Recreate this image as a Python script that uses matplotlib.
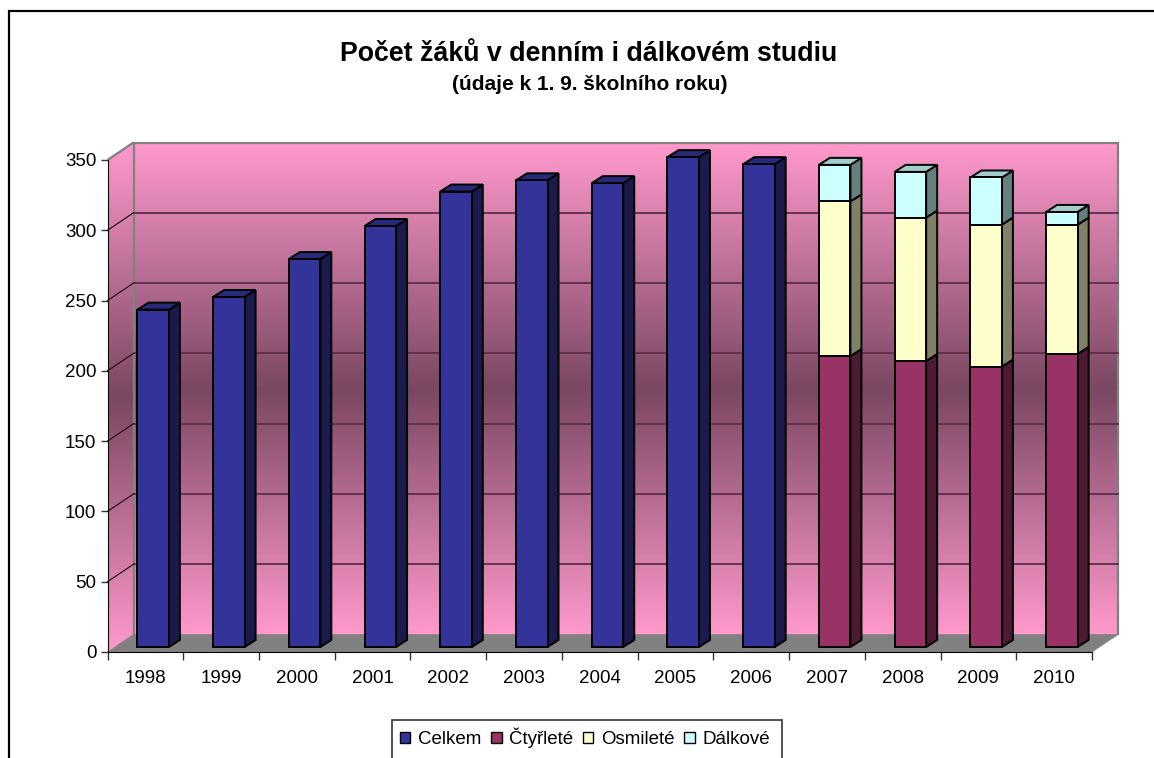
import numpy as np
import matplotlib
matplotlib.use('Agg')
import matplotlib.pyplot as plt
from matplotlib.colors import LinearSegmentedColormap
from matplotlib.patches import Polygon, Rectangle

plt.rcParams['font.family'] = ['Liberation Sans', 'DejaVu Sans']

# data
years = ['1998', '1999', '2000', '2001', '2002', '2003', '2004', '2005', '2006',
         '2007', '2008', '2009', '2010']
celkem = [240, 249, 276, 299.5, 324, 332, 330, 348.5, 343.5, 0, 0, 0, 0]
ctyrlete = [0, 0, 0, 0, 0, 0, 0, 0, 0, 207, 203.5, 199.5, 208.5]
osmilete = [0, 0, 0, 0, 0, 0, 0, 0, 0, 110, 102, 101, 92]
dalkove = [0, 0, 0, 0, 0, 0, 0, 0, 0, 26, 32.5, 33.5, 9]
y_ticks = [0, 50, 100, 150, 200, 250, 300, 350]

names = ['Celkem', 'Čtyřleté', 'Osmileté', 'Dálkové']
series = [celkem, ctyrlete, osmilete, dalkove]
front = ['#333399', '#993366', '#FFFFCC', '#CCFFFF']
side = ['#1A1A4D', '#4D1A33', '#808066', '#668080']
top = ['#29297A', '#7A2952', '#CCCCA3', '#A3CCCC']

W, H = 1154, 758
fig = plt.figure(figsize=(W / 100, H / 100), dpi=100)


def fig_box(x0, y0, x1, y1):
    return [x0 / W, 1 - y1 / H, (x1 - x0) / W, (y1 - y0) / H]


# chart frame, runs off the right and bottom of the image
frame = Rectangle((9 / W, -0.05), 1.2, 1.05 - 11 / H, transform=fig.transFigure,
                  fc='white', ec='black', lw=1.6, zorder=-1)
fig.add_artist(frame)

ax = fig.add_axes(fig_box(107.5, 160, 1092, 652))
ax.set_xlim(0, 13)
ax.set_ylim(0, 350)
ax.patch.set_visible(False)
for s in ['top', 'right']:
    ax.spines[s].set_visible(False)

# depth of the 3d box, in data units
px_x = 13 / (1092 - 107.5)
px_y = 350 / (652 - 160)
depth_x = 26 * px_x
depth_y = 17.5 * px_y

wall = LinearSegmentedColormap.from_list('wall', ['#FF99CC', '#7A4762', '#FF99CC'])
grad = np.linspace(0, 1, 256).reshape(-1, 1)

# back wall
ax.imshow(grad, cmap=wall, aspect='auto', zorder=1, clip_on=False, origin='upper',
          extent=(depth_x, 13 + depth_x, depth_y, 350 + depth_y))
# left side wall
side_im = ax.imshow(grad, cmap=wall, aspect='auto', zorder=1, origin='upper',
                    extent=(0, depth_x, 0, 350 + depth_y))
side_im.set_clip_box(fig.bbox)
side_im.set_clip_path(Polygon([(0, 0), (depth_x, depth_y), (depth_x, 350 + depth_y), (0, 350)],
                              transform=ax.transData))
ax.set_xlim(0, 13)
ax.set_ylim(0, 350)

wall_edge = '#808080'
ax.add_patch(Polygon([(depth_x, depth_y), (depth_x, 350 + depth_y), (13 + depth_x, 350 + depth_y),
                      (13 + depth_x, depth_y)], closed=False, fill=False, ec=wall_edge, lw=1.6,
                     zorder=2, clip_on=False))
ax.add_patch(Polygon([(0, 350), (depth_x, 350 + depth_y)], closed=False, fill=False, ec=wall_edge,
                     lw=1.6, zorder=2, clip_on=False))

# floor
ax.add_patch(Polygon([(0, 0), (13, 0), (13 + depth_x, depth_y), (depth_x, depth_y)], fc='#808080',
                     ec='#808080', lw=0.5, zorder=2, clip_on=False))

# gridlines on both walls
for v in y_ticks[1:-1]:
    ax.plot([depth_x, 13 + depth_x], [v + depth_y, v + depth_y], color='#5E2F47', lw=1.3, zorder=2,
            clip_on=False)
    ax.plot([0, depth_x], [v, v + depth_y], color='#2A1420', lw=0.9, zorder=2, clip_on=False)

# bars, left to right and bottom to top
bar_w = 31.5 * px_x
bar_dx = 11 * px_x
bar_dy = 7 * px_y
off_x = 8.5 * px_x
off_y = 5 * px_y
x_pos = np.arange(len(years)) + 0.5 + off_x - 0.5 * 1.5 * px_x

for i in range(len(years)):
    base = off_y
    left = x_pos[i] - bar_w / 2
    right = left + bar_w
    for k in range(len(series)):
        v = series[k][i]
        if v == 0:
            continue
        t = base + v
        ax.bar(x_pos[i], v, bar_w, bottom=base, color=front[k], edgecolor='black', lw=1.4, zorder=5,
               clip_on=False)
        ax.add_patch(Polygon([(right, base), (right + bar_dx, base + bar_dy), (right + bar_dx, t + bar_dy),
                              (right, t)], fc=side[k], ec='black', lw=1.4, zorder=4, clip_on=False))
        ax.add_patch(Polygon([(left, t), (left + bar_dx, t + bar_dy), (right + bar_dx, t + bar_dy),
                              (right, t)], fc=top[k], ec='black', lw=1.4, zorder=4, clip_on=False))
        base = t

# axes
ax.set_yticks(y_ticks)
ax.set_xticks(np.arange(len(years) + 1))
ax.set_xticklabels([])
ax.set_xticks(np.arange(len(years)) + 0.5, years, minor=True)
ax.tick_params(axis='x', which='major', length=5.5, width=1, color='#333333')
ax.tick_params(axis='x', which='minor', length=0, labelsize=13.5, pad=13)
ax.tick_params(axis='y', length=5, width=1, labelsize=13.5, pad=3, color='#333333')
ax.spines['left'].set_zorder(3)
ax.spines['bottom'].set_zorder(3)

# titles
fig.text(588.5 / W, 1 - 54 / H, 'Počet žáků v denním i dálkovém studiu', ha='center', va='center',
         fontsize=19.3, fontweight='bold')
fig.text(589.5 / W, 1 - 84 / H, '(údaje k 1. 9. školního roku)', ha='center', va='center',
         fontsize=15, fontweight='bold')

# legend, its box runs off the bottom of the image
fig.add_artist(Rectangle((392 / W, -0.05), 390 / W, 0.05 + 1 - 720 / H, transform=fig.transFigure,
                         fc='white', ec='#333333', lw=1.2, zorder=-1))
handles = [Rectangle((0, 0), 1, 1, fc=c, ec='black', lw=1) for c in front]
leg = fig.legend(handles, names, loc='upper left', bbox_to_anchor=(392 / W, 1 - 720 / H), ncol=4,
                 fontsize=13.5, frameon=False, handlelength=0.58, handleheight=0.58,
                 handletextpad=0.4, columnspacing=0.5, borderaxespad=0, borderpad=0.4)

fig.savefig('out.png', dpi=100)
